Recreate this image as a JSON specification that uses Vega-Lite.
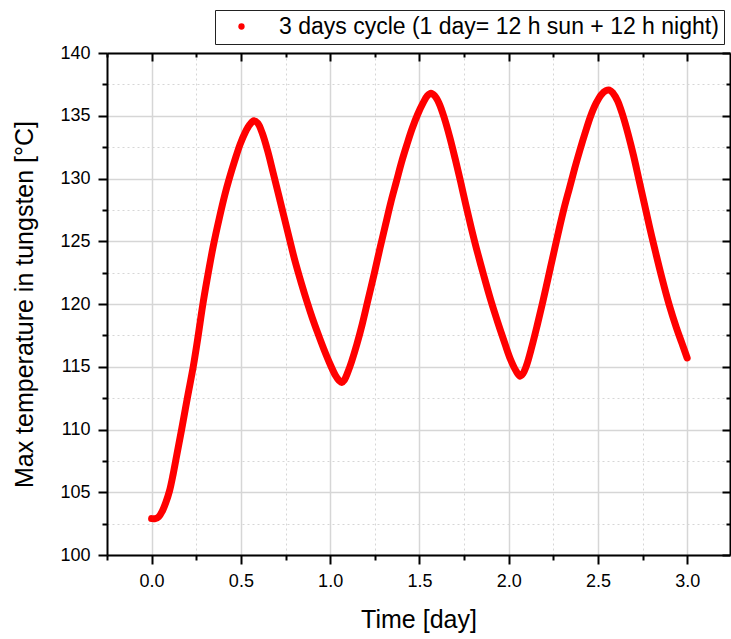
{
  "$schema": "https://vega.github.io/schema/vega-lite/v6.json",
  "width": 623,
  "height": 502,
  "autosize": {"type": "none"},
  "padding": {"left": 107, "top": 53, "right": 1, "bottom": 84},
  "background": "white",
  "config": {"font": "Liberation Sans", "view": {"stroke": null}},
  "data": {"values": [
    {"t": 0.00, "T": 102.9}, {"t": 0.02, "T": 102.9}, {"t": 0.04, "T": 103.05}, {"t": 0.06, "T": 103.5},
    {"t": 0.08, "T": 104.2}, {"t": 0.10, "T": 105.1}, {"t": 0.12, "T": 106.4}, {"t": 0.14, "T": 107.9},
    {"t": 0.168, "T": 110.0}, {"t": 0.20, "T": 112.5}, {"t": 0.233, "T": 115.0}, {"t": 0.26, "T": 117.4},
    {"t": 0.285, "T": 119.8}, {"t": 0.31, "T": 121.9}, {"t": 0.345, "T": 124.6}, {"t": 0.38, "T": 126.9},
    {"t": 0.41, "T": 128.7}, {"t": 0.435, "T": 130.0}, {"t": 0.465, "T": 131.4}, {"t": 0.495, "T": 132.7},
    {"t": 0.525, "T": 133.7}, {"t": 0.55, "T": 134.3}, {"t": 0.573, "T": 134.6}, {"t": 0.595, "T": 134.4},
    {"t": 0.62, "T": 133.6}, {"t": 0.65, "T": 132.2}, {"t": 0.68, "T": 130.5}, {"t": 0.72, "T": 128.2},
    {"t": 0.765, "T": 125.6}, {"t": 0.80, "T": 123.6}, {"t": 0.84, "T": 121.6}, {"t": 0.87, "T": 120.2},
    {"t": 0.90, "T": 118.9}, {"t": 0.933, "T": 117.6}, {"t": 0.965, "T": 116.4}, {"t": 1.00, "T": 115.2},
    {"t": 1.03, "T": 114.3}, {"t": 1.05, "T": 113.9}, {"t": 1.065, "T": 113.75}, {"t": 1.08, "T": 113.95},
    {"t": 1.10, "T": 114.6}, {"t": 1.12, "T": 115.4}, {"t": 1.15, "T": 116.8}, {"t": 1.18, "T": 118.4},
    {"t": 1.21, "T": 120.2}, {"t": 1.25, "T": 122.6}, {"t": 1.28, "T": 124.5}, {"t": 1.31, "T": 126.3},
    {"t": 1.34, "T": 128.1}, {"t": 1.37, "T": 129.7}, {"t": 1.40, "T": 131.3}, {"t": 1.43, "T": 132.7},
    {"t": 1.46, "T": 134.0}, {"t": 1.49, "T": 135.1}, {"t": 1.52, "T": 136.0}, {"t": 1.545, "T": 136.6},
    {"t": 1.565, "T": 136.8}, {"t": 1.585, "T": 136.6}, {"t": 1.61, "T": 136.0}, {"t": 1.64, "T": 134.8},
    {"t": 1.67, "T": 133.3}, {"t": 1.70, "T": 131.6}, {"t": 1.73, "T": 129.8}, {"t": 1.76, "T": 127.9},
    {"t": 1.79, "T": 126.1}, {"t": 1.82, "T": 124.4}, {"t": 1.86, "T": 122.3}, {"t": 1.90, "T": 120.3},
    {"t": 1.94, "T": 118.5}, {"t": 1.98, "T": 116.8}, {"t": 2.01, "T": 115.6}, {"t": 2.04, "T": 114.7},
    {"t": 2.064, "T": 114.25}, {"t": 2.08, "T": 114.45}, {"t": 2.10, "T": 115.1}, {"t": 2.13, "T": 116.6},
    {"t": 2.16, "T": 118.3}, {"t": 2.19, "T": 120.1}, {"t": 2.22, "T": 122.0}, {"t": 2.25, "T": 123.9},
    {"t": 2.28, "T": 125.8}, {"t": 2.31, "T": 127.6}, {"t": 2.34, "T": 129.2}, {"t": 2.37, "T": 130.8},
    {"t": 2.40, "T": 132.3}, {"t": 2.43, "T": 133.7}, {"t": 2.46, "T": 135.0}, {"t": 2.49, "T": 136.0},
    {"t": 2.52, "T": 136.7}, {"t": 2.545, "T": 137.0}, {"t": 2.565, "T": 137.05}, {"t": 2.585, "T": 136.8},
    {"t": 2.61, "T": 136.2}, {"t": 2.64, "T": 135.0}, {"t": 2.67, "T": 133.5}, {"t": 2.70, "T": 131.8},
    {"t": 2.73, "T": 129.9}, {"t": 2.76, "T": 128.0}, {"t": 2.79, "T": 126.1}, {"t": 2.82, "T": 124.3},
    {"t": 2.86, "T": 122.0}, {"t": 2.90, "T": 119.9}, {"t": 2.94, "T": 118.1}, {"t": 2.97, "T": 116.9},
    {"t": 3.00, "T": 115.7}
  ]},
  "resolve": {"axis": {"x": "independent", "y": "independent"}},
  "layer": [
    {
      "mark": {"type": "point", "opacity": 0},
      "encoding": {
        "x": {"field": "t", "type": "quantitative", "scale": {"domain": [-0.25, 3.24], "nice": false, "zero": false},
          "axis": {"orient": "bottom", "values": [-0.25, 0.25, 0.75, 1.25, 1.75, 2.25, 2.75], "labels": false, "domain": false,
            "ticks": true, "tickSize": 5, "tickWidth": 2, "tickColor": "#000", "grid": true, "gridColor": "#d6d6d6", "gridWidth": 1, "gridDash": [2, 3], "title": null}},
        "y": {"field": "T", "type": "quantitative", "scale": {"domain": [100, 140], "nice": false, "zero": false},
          "axis": {"orient": "left", "values": [102.5, 107.5, 112.5, 117.5, 122.5, 127.5, 132.5, 137.5], "labels": false, "domain": false,
            "ticks": true, "tickSize": 5, "tickWidth": 2, "tickColor": "#000", "grid": true, "gridColor": "#d6d6d6", "gridWidth": 1, "gridDash": [2, 3], "title": null}}
      }
    },
    {
      "mark": {"type": "point", "opacity": 0},
      "encoding": {
        "x": {"field": "t", "type": "quantitative",
          "axis": {"orient": "top", "values": [-0.25, 0.25, 0.75, 1.25, 1.75, 2.25, 2.75], "labels": false, "domain": false,
            "ticks": true, "tickSize": -4, "tickWidth": 2, "tickColor": "#000", "grid": false, "title": null}},
        "y": {"field": "T", "type": "quantitative",
          "axis": {"orient": "right", "values": [102.5, 107.5, 112.5, 117.5, 122.5, 127.5, 132.5, 137.5], "labels": false, "domain": false,
            "ticks": true, "tickSize": -4, "tickWidth": 2, "tickColor": "#000", "grid": false, "title": null}}
      }
    },
    {
      "mark": {"type": "point", "opacity": 0},
      "encoding": {
        "x": {"field": "t", "type": "quantitative",
          "axis": {"orient": "top", "values": [0, 0.5, 1, 1.5, 2, 2.5, 3], "labels": false, "domain": true, "domainColor": "#000", "domainWidth": 2,
            "ticks": true, "tickSize": -8, "tickWidth": 2, "tickColor": "#000", "grid": false, "title": null}},
        "y": {"field": "T", "type": "quantitative",
          "axis": {"orient": "right", "values": [100, 105, 110, 115, 120, 125, 130, 135, 140], "labels": false, "domain": true, "domainColor": "#000", "domainWidth": 2,
            "ticks": true, "tickSize": -8, "tickWidth": 2, "tickColor": "#000", "grid": false, "title": null}}
      }
    },
    {
      "mark": {"type": "line", "strokeWidth": 7, "strokeCap": "round", "strokeJoin": "round", "interpolate": "catmull-rom"},
      "encoding": {
        "x": {"field": "t", "type": "quantitative",
          "axis": {"orient": "bottom", "values": [0, 0.5, 1, 1.5, 2, 2.5, 3], "format": ".1f", "labelFontSize": 18, "labelColor": "#000", "labelPadding": 8,
            "domain": true, "domainColor": "#000", "domainWidth": 2, "ticks": true, "tickSize": 9, "tickWidth": 2, "tickColor": "#000",
            "grid": true, "gridColor": "#d6d6d6", "gridWidth": 1.5,
            "title": "Time [day]", "titleFontSize": 25, "titleFontWeight": "normal", "titleColor": "#000", "titlePadding": 17}},
        "y": {"field": "T", "type": "quantitative",
          "axis": {"orient": "left", "values": [100, 105, 110, 115, 120, 125, 130, 135, 140], "labelFontSize": 18, "labelColor": "#000", "labelPadding": 8,
            "domain": true, "domainColor": "#000", "domainWidth": 2, "ticks": true, "tickSize": 9, "tickWidth": 2, "tickColor": "#000",
            "grid": true, "gridColor": "#d6d6d6", "gridWidth": 1.5,
            "title": "Max temperature in tungsten [°C]", "titleFontSize": 25, "titleFontWeight": "normal", "titleColor": "#000", "titlePadding": 22}},
        "color": {"datum": "3 days cycle (1 day= 12 h sun + 12 h night)", "type": "nominal",
          "scale": {"range": ["#ff0000"]},
          "legend": {"orient": "none", "legendX": 108, "legendY": -43, "title": null, "padding": 5, "strokeColor": "#222", "fillColor": "white",
            "symbolType": "circle", "symbolSize": 40, "symbolOffset": 10, "labelOffset": 26, "labelFontSize": 23, "labelColor": "#000", "labelLimit": 700,
            "encode": {"symbols": {"update": {"fill": {"value": "#ff0000"}, "stroke": {"value": "transparent"}, "strokeWidth": {"value": 0}}}}}}
      }
    }
  ]
}
